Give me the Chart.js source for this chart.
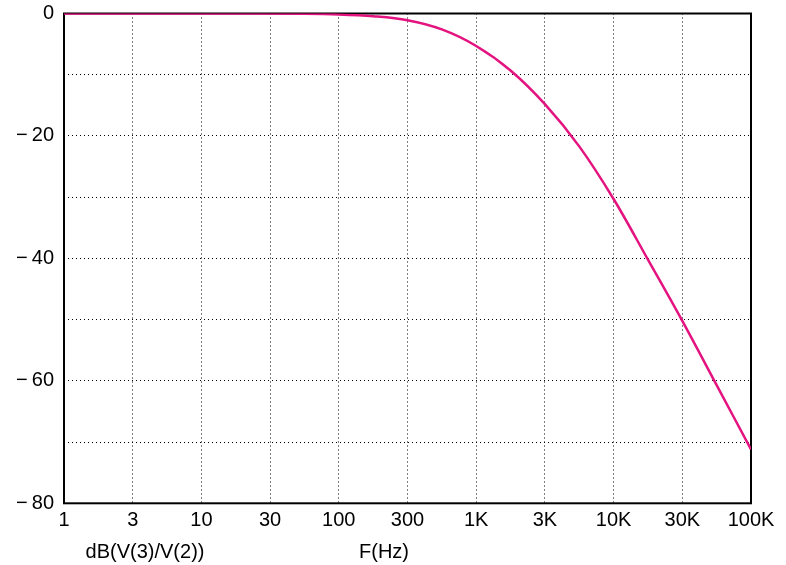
<!DOCTYPE html>
<html>
<head>
<meta charset="utf-8">
<script src="https://cdn.jsdelivr.net/npm/chart.js@4"></script>
<style>
  html, body { margin: 0; padding: 0; background: #fff; }
  #wrap { width: 786px; height: 565px; }
</style>
</head>
<body>
<div id="wrap"><canvas id="c" width="786" height="565"></canvas></div>
<script>
// Frequency (Hz) and gain (dB)
const freqHz = [1, 10, 56, 100, 178, 316, 562, 1000, 1778, 3162, 5623, 10000, 17783, 31623, 56234, 100000];
const gainDb = [0, 0, -0.05, -0.15, -0.45, -1.1, -2.6, -5.3, -9.3, -14.8, -21.7, -30.3, -40.2, -50.2, -60.7, -71.2];

const xTickValues = [1, 3.1623, 10, 31.623, 100, 316.23, 1000, 3162.3, 10000, 31623, 100000];
const xTickLabels = ['1', '3', '10', '30', '100', '300', '1K', '3K', '10K', '30K', '100K'];
const yTickValues = [0, -10, -20, -30, -40, -50, -60, -70, -80];
const yLabelled = [0, -20, -40, -60, -80];

const yAxisTitle = 'dB(V(3)/V(2))';
const xAxisTitle = 'F(Hz)';

const FONT = 'Liberation Sans, Arial, Helvetica, sans-serif';

const framePlugin = {
  id: 'frame',
  beforeDatasetsDraw(chart) {
    const { ctx, chartArea: a } = chart;
    ctx.save();
    ctx.strokeStyle = '#000';
    ctx.lineWidth = 2;
    ctx.strokeRect(a.left, a.top, a.right - a.left, a.bottom - a.top);
    ctx.restore();
  },
  afterDraw(chart) {
    const { ctx, chartArea: a } = chart;
    ctx.save();
    ctx.fillStyle = '#000';
    ctx.font = '20px ' + FONT;
    ctx.textAlign = 'center';
    ctx.textBaseline = 'middle';
    ctx.fillText(yAxisTitle, a.left + 81, a.bottom + 49);
    ctx.fillText(xAxisTitle, a.left + 320, a.bottom + 49);
    ctx.restore();
  }
};

const data = {
  datasets: [{
    data: freqHz.map((f, i) => ({ x: f, y: gainDb[i] })),
    borderColor: '#E3137F',
    borderWidth: 2.5,
    pointRadius: 0,
    fill: false,
    tension: 0.35
  }]
};

new Chart(document.getElementById('c'), {
  type: 'line',
  data,
  options: {
    responsive: false,
    animation: false,
    events: [],
    layout: { padding: { left: 0, right: 35, top: 13.5, bottom: 0 } },
    plugins: { legend: { display: false }, tooltip: { enabled: false } },
    scales: {
      x: {
        type: 'logarithmic',
        min: 1,
        max: 100000,
        afterBuildTicks(scale) { scale.ticks = xTickValues.map(v => ({ value: v })); },
        afterFit(scale) { scale.height = 61.7; scale.paddingLeft = 0; scale.paddingRight = 0; },
        border: { display: false, dash: [1, 3] },
        grid: {
          color: '#000',
          lineWidth: 1,
          drawTicks: false
        },
        ticks: {
          autoSkip: false,
          maxRotation: 0,
          minRotation: 0,
          padding: 5,
          color: '#000',
          font: { family: FONT, size: 20 },
          callback: (v, i) => xTickLabels[i]
        }
      },
      y: {
        type: 'linear',
        min: -80,
        max: 0,
        afterBuildTicks(scale) { scale.ticks = yTickValues.map(v => ({ value: v })); },
        afterFit(scale) { scale.width = 64; scale.paddingTop = 0; scale.paddingBottom = 0; },
        border: { display: false, dash: [1, 3] },
        grid: {
          color: '#000',
          lineWidth: 1,
          drawTicks: false
        },
        ticks: {
          padding: 10,
          color: '#000',
          font: { family: FONT, size: 20 },
          callback: (v) => yLabelled.includes(v) ? (v < 0 ? '\u2212\u2009' + Math.abs(v) : String(v)) : ''
        }
      }
    }
  },
  plugins: [framePlugin]
});
</script>
</body>
</html>
